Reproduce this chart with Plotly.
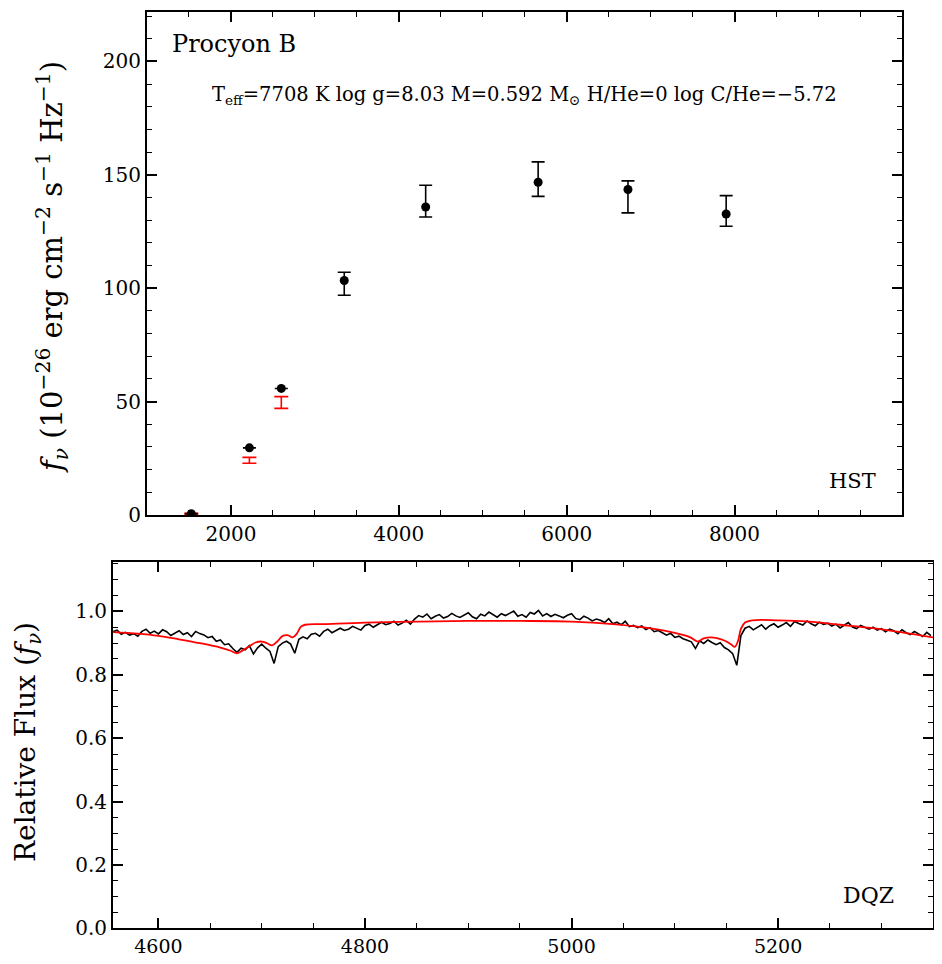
import numpy as np
import plotly.graph_objects as go

# --- top panel: HST photometry (10^-26 erg cm^-2 s^-1 Hz^-1)
phot_wave = [1528, 2220, 2600, 3350, 4320, 5660, 6730, 7900]
phot_flux = [0.6, 29.6, 55.8, 103.4, 135.8, 146.7, 143.5, 132.7]
phot_err_hi = [0, 0, 0, 3.6, 9.6, 9.0, 3.8, 8.1]
phot_err_lo = [0, 0, 0, 6.5, 4.4, 6.2, 10.3, 5.4]

# model fluxes drawn as red bars
mod_wave = [1528, 2220, 2600]
mod_flux = [0.5, 24.1, 49.6]
mod_err = [0.3, 1.3, 2.6]

# --- bottom panel: observed spectrum, 4 A sampling from 4556 A
spec_wave = np.arange(4556, 5349, 4)
spec_flux = [
    0.936, 0.941, 0.928, 0.934, 0.925, 0.930, 0.922, 0.937, 0.944, 0.931, 0.938,
    0.929, 0.942, 0.936, 0.924, 0.931, 0.939, 0.927, 0.933, 0.921, 0.937, 0.930,
    0.926, 0.917, 0.921, 0.906, 0.910, 0.895, 0.898, 0.883,
    0.871, 0.884, 0.879, 0.892, 0.866, 0.885, 0.897, 0.884,
    0.874, 0.836, 0.889, 0.900, 0.906, 0.897, 0.868, 0.912,
    0.920, 0.914, 0.928, 0.931, 0.922, 0.937, 0.944, 0.933, 0.939, 0.947, 0.940,
    0.944, 0.953, 0.947, 0.941, 0.956, 0.960, 0.950, 0.957, 0.966, 0.958, 0.962,
    0.969, 0.957, 0.963, 0.972, 0.960, 0.976,
    0.987, 0.982, 0.992, 0.977, 0.985, 0.990, 0.979, 0.984, 0.994, 0.986, 0.981,
    0.989, 0.996, 0.983, 0.977, 0.991, 0.986, 0.998, 0.990, 0.982, 0.993, 0.987,
    0.994, 1.001, 0.985, 0.990, 0.982, 0.997, 0.992, 1.003, 0.986, 0.993, 0.984,
    0.991, 0.986, 0.980, 0.988, 0.993, 0.978, 0.974, 0.985, 0.979, 0.970, 0.976,
    0.972, 0.965, 0.977, 0.961, 0.966, 0.958, 0.969, 0.952, 0.956, 0.949, 0.954,
    0.943, 0.949, 0.936, 0.940, 0.932, 0.925, 0.931, 0.918, 0.922, 0.914, 0.909,
    0.904, 0.883, 0.907, 0.899, 0.910, 0.902, 0.895, 0.901, 0.886, 0.879, 0.867,
    0.830, 0.924, 0.947, 0.953, 0.942, 0.949, 0.958, 0.944, 0.955, 0.961, 0.950,
    0.957, 0.965, 0.953, 0.968, 0.962, 0.957, 0.970, 0.961, 0.955, 0.966, 0.959,
    0.963, 0.954, 0.960, 0.948, 0.957, 0.965, 0.951, 0.946, 0.956, 0.949, 0.944,
    0.950, 0.941, 0.946, 0.936, 0.944, 0.939, 0.930, 0.942, 0.933, 0.927, 0.937,
    0.929, 0.921, 0.934, 0.924,
]

# model spectrum (red)
model_wave = [4556, 4580, 4600, 4620, 4640, 4660, 4670, 4676, 4682, 4688, 4694,
              4700, 4705, 4710, 4715, 4720, 4725, 4730, 4734, 4738, 4742, 4760,
              4800, 4850, 4900, 4950, 5000, 5040, 5080, 5100, 5115, 5122, 5128,
              5135, 5145, 5150, 5155, 5158, 5161, 5164, 5168, 5175, 5200, 5230,
              5260, 5290, 5320, 5350]
model_flux = [0.935, 0.930, 0.923, 0.912, 0.900, 0.886, 0.876, 0.868, 0.878, 0.890, 0.902,
              0.905, 0.900, 0.893, 0.905, 0.922, 0.925, 0.918, 0.930, 0.952, 0.958, 0.960,
              0.965, 0.968, 0.970, 0.970, 0.968, 0.960, 0.945, 0.932, 0.918, 0.905, 0.915,
              0.918, 0.912, 0.905, 0.895, 0.888, 0.905, 0.945, 0.965, 0.972, 0.972, 0.968,
              0.958, 0.948, 0.934, 0.918]

# page has an 8px body margin, so the figure is 16px smaller than the window
FW, FH = 926, 948
FONT = "DejaVu Serif"


def fx(px):
    return (px - 8) / FW


def fy(py):
    return 1 - (py - 8) / FH


fig = go.Figure()

fig.add_trace(go.Scatter(
    x=mod_wave, y=mod_flux, mode="markers", xaxis="x", yaxis="y",
    marker=dict(size=1, color="rgba(0,0,0,0)"),
    error_y=dict(type="data", array=mod_err, color="red", thickness=1.6, width=7),
    showlegend=False))

fig.add_trace(go.Scatter(
    x=phot_wave, y=phot_flux, mode="markers", xaxis="x", yaxis="y",
    marker=dict(size=9, color="black"),
    error_y=dict(type="data", symmetric=False, array=phot_err_hi,
                 arrayminus=phot_err_lo, color="black", thickness=1.6, width=6.5),
    showlegend=False))

fig.add_trace(go.Scatter(
    x=spec_wave, y=spec_flux, mode="lines", xaxis="x2", yaxis="y2",
    line=dict(color="black", width=1.6), showlegend=False))

fig.add_trace(go.Scatter(
    x=model_wave, y=model_flux, mode="lines", xaxis="x2", yaxis="y2",
    line=dict(color="red", width=1.8, shape="spline"), showlegend=False))


def ax(**kw):
    d = dict(showline=True, linewidth=2, linecolor="black", mirror="ticks",
             ticks="inside", ticklen=10, tickwidth=1.5, tickcolor="black",
             showgrid=False, zeroline=False, automargin=False,
             tickfont=dict(family=FONT, size=20, color="black"))
    d.update(kw)
    return d


def minor(dt):
    return dict(dtick=dt, ticks="inside", ticklen=5, tickwidth=1.2, tickcolor="black")


fig.update_layout(
    width=FW, height=FH,
    margin=dict(l=0, r=0, t=0, b=0),
    plot_bgcolor="white", paper_bgcolor="white",
    xaxis=ax(domain=[fx(147), fx(902)], anchor="y", range=[1000, 9995],
             tick0=0, dtick=2000, tickformat="d", minor=minor(500)),
    yaxis=ax(domain=[fy(515), fy(11.5)], anchor="x", range=[0, 222],
             tick0=0, dtick=50, minor=minor(10)),
    xaxis2=ax(domain=[fx(113), fx(933)], anchor="y2", range=[4556, 5350],
              tick0=0, dtick=200, tickformat="d", minor=minor(50),
              tickfont=dict(family=FONT, size=19, color="black")),
    yaxis2=ax(domain=[fy(928.3), fy(561.7)], anchor="x2", range=[0, 1.157],
              tick0=0, dtick=0.2, tickformat=".1f", minor=minor(0.05)),
)

annots = [
    dict(text="Procyon B", x=fx(170), y=fy(44), xanchor="left", yanchor="middle",
         font=dict(size=24)),
    dict(text="T<sub>eff</sub>=7708 K log g=8.03 M=0.592 M<sub>⊙</sub> H/He=0 log C/He=−5.72",
         x=fx(524), y=fy(95), xanchor="center", yanchor="middle", font=dict(size=19.5)),
    dict(text="HST", x=fx(852), y=fy(481), xanchor="center", yanchor="middle",
         font=dict(size=21)),
    dict(text="DQZ", x=fx(868), y=fy(895), xanchor="center", yanchor="middle",
         font=dict(size=22)),
    dict(text="<i>f</i><sub><i>ν</i></sub> (10<sup>−26</sup> erg cm<sup>−2</sup> s<sup>−1</sup> Hz<sup>−1</sup>)",
         x=fx(52), y=fy(267), xanchor="center", yanchor="middle", textangle=-90,
         font=dict(size=29)),
    dict(text="Relative Flux (<i>f</i><sub><i>ν</i></sub>)",
         x=fx(27), y=fy(742), xanchor="center", yanchor="middle", textangle=-90,
         font=dict(size=28)),
]
for a in annots:
    a.update(xref="paper", yref="paper", showarrow=False)
    a["font"].update(family=FONT, color="black")
    fig.add_annotation(**a)

fig.write_html("out.html")
